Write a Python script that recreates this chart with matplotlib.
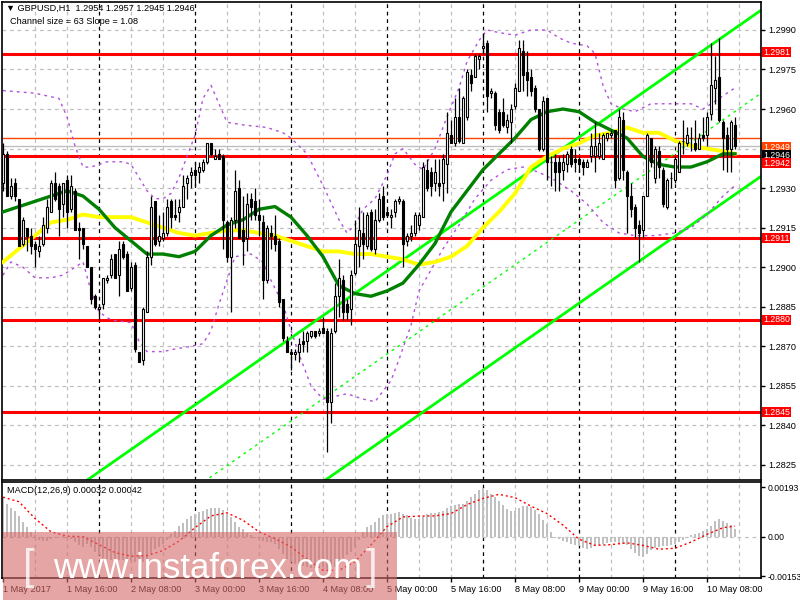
import numpy as np
import matplotlib.pyplot as plt
from matplotlib.patches import Rectangle

# GBPUSD H1, 1 May 2017 00:00 .. 10 May 2017 15:00 (184 bars)
opens = [
    1.2932, 1.2943, 1.2927, 1.2932, 1.2926, 1.2909, 1.2915, 1.2912,
    1.2909, 1.2906, 1.2909, 1.2915, 1.2921, 1.2932, 1.2931, 1.2924,
    1.2933, 1.2922, 1.2929, 1.2915, 1.2915, 1.2908, 1.2900, 1.2889,
    1.2884, 1.2886, 1.2895, 1.2897, 1.2905, 1.2897, 1.2909, 1.2905,
    1.2892, 1.2901, 1.2868, 1.2865, 1.2883, 1.2904, 1.2925, 1.2910,
    1.2911, 1.2913, 1.2925, 1.2920, 1.2921, 1.2923, 1.2932, 1.2935,
    1.2937, 1.2936, 1.2937, 1.2940, 1.2947, 1.2941, 1.2943, 1.2942,
    1.2917, 1.2904, 1.2918, 1.2930, 1.2914, 1.2911, 1.2926, 1.2925,
    1.2920, 1.2917, 1.2895, 1.2913, 1.2912, 1.2910, 1.2888, 1.2872,
    1.2868, 1.2867, 1.2868, 1.2872, 1.2872, 1.2874, 1.2876, 1.2875,
    1.2877, 1.2876, 1.2849, 1.2876, 1.2889, 1.2895, 1.2886, 1.2884,
    1.2898, 1.2908, 1.2913, 1.2908, 1.2921, 1.2907, 1.2918, 1.2927,
    1.2921, 1.2919, 1.2921, 1.2925, 1.2925, 1.2910, 1.2912, 1.2913,
    1.2916, 1.2919, 1.2937, 1.2936, 1.2932, 1.2932, 1.2932, 1.2939,
    1.2950, 1.2947, 1.2957, 1.2947, 1.2957, 1.2973, 1.2972, 1.2979,
    1.2983, 1.2985, 1.2966, 1.2966, 1.2959, 1.2959, 1.2953, 1.2955,
    1.2961, 1.2967, 1.2982, 1.2974, 1.2972, 1.2968, 1.2960, 1.2945,
    1.2964, 1.2940, 1.2940, 1.2940, 1.2937, 1.2939, 1.2945, 1.2941,
    1.2941, 1.2940, 1.2938, 1.2942, 1.2942, 1.2942, 1.2941, 1.2949,
    1.2950, 1.2952, 1.2934, 1.2956, 1.2936, 1.2927, 1.2923, 1.2916,
    1.2914, 1.2927, 1.2949, 1.2934, 1.2944, 1.2937, 1.2923, 1.2934,
    1.2933, 1.2936, 1.2948, 1.2947, 1.2949, 1.2947, 1.2945, 1.2950,
    1.2950, 1.2958, 1.2968, 1.2972, 1.2955, 1.2950, 1.2945, 1.2954,
]
highs = [
    1.2947, 1.2944, 1.2934, 1.2934, 1.2926, 1.2919, 1.2915, 1.2915,
    1.2910, 1.2912, 1.2919, 1.2926, 1.2933, 1.2936, 1.2932, 1.2932,
    1.2935, 1.2935, 1.2930, 1.2917, 1.2915, 1.2908, 1.2900, 1.2890,
    1.2886, 1.2896, 1.2897, 1.2905, 1.2905, 1.2910, 1.2910, 1.2906,
    1.2902, 1.2902, 1.2868, 1.2885, 1.2906, 1.2927, 1.2925, 1.2920,
    1.2921, 1.2926, 1.2926, 1.2926, 1.2926, 1.2935, 1.2935, 1.2938,
    1.2940, 1.2940, 1.2941, 1.2947, 1.2947, 1.2945, 1.2945, 1.2943,
    1.2918, 1.2919, 1.2937, 1.2933, 1.2927, 1.2928, 1.2928, 1.2930,
    1.2926, 1.2920, 1.2916, 1.2916, 1.2920, 1.2911, 1.2888, 1.2874,
    1.2869, 1.2869, 1.2873, 1.2876, 1.2876, 1.2876, 1.2876, 1.2877,
    1.2881, 1.2877, 1.2877, 1.2894, 1.2903, 1.2897, 1.2888, 1.2899,
    1.2918, 1.2923, 1.2921, 1.2921, 1.2922, 1.2922, 1.2928, 1.2931,
    1.2923, 1.2922, 1.2926, 1.2927, 1.2926, 1.2913, 1.2916, 1.2921,
    1.2921, 1.2940, 1.2941, 1.2938, 1.2941, 1.2941, 1.2943, 1.2959,
    1.2956, 1.2964, 1.2968, 1.2965, 1.2975, 1.2975, 1.2981, 1.2981,
    1.2989, 1.2986, 1.2968, 1.2967, 1.2960, 1.2964, 1.2958, 1.2962,
    1.2970, 1.2986, 1.2986, 1.2982, 1.2975, 1.2969, 1.2960, 1.2965,
    1.2964, 1.2942, 1.2943, 1.2942, 1.2943, 1.2944, 1.2946, 1.2945,
    1.2942, 1.2941, 1.2941, 1.2951, 1.2955, 1.2951, 1.2951, 1.2951,
    1.2952, 1.2952, 1.2960, 1.2959, 1.2937, 1.2932, 1.2924, 1.2918,
    1.2927, 1.2951, 1.2949, 1.2946, 1.2946, 1.2938, 1.2934, 1.2936,
    1.2942, 1.2948, 1.2956, 1.2953, 1.2953, 1.2956, 1.2951, 1.2957,
    1.2959, 1.2985, 1.2980, 1.2987, 1.2956, 1.2953, 1.2956, 1.2957,
]
lows = [
    1.2929, 1.2927, 1.2926, 1.2925, 1.2908, 1.2908, 1.2906, 1.2905,
    1.2900, 1.2904, 1.2908, 1.2913, 1.2921, 1.2925, 1.2912, 1.2919,
    1.2915, 1.2921, 1.2914, 1.2903, 1.2907, 1.2900, 1.2886, 1.2884,
    1.2880, 1.2884, 1.2894, 1.2896, 1.2896, 1.2889, 1.2903, 1.2891,
    1.2891, 1.2868, 1.2864, 1.2863, 1.2883, 1.2901, 1.2908, 1.2908,
    1.2910, 1.2912, 1.2915, 1.2918, 1.2917, 1.2923, 1.2926, 1.2930,
    1.2931, 1.2932, 1.2936, 1.2939, 1.2942, 1.2941, 1.2941, 1.2907,
    1.2902, 1.2883, 1.2915, 1.2911, 1.2901, 1.2906, 1.2918, 1.2918,
    1.2912, 1.2888, 1.2894, 1.2907, 1.2906, 1.2885, 1.2872, 1.2868,
    1.2861, 1.2865, 1.2864, 1.2868, 1.2868, 1.2873, 1.2873, 1.2874,
    1.2875, 1.2830, 1.2841, 1.2875, 1.2881, 1.2880, 1.2880, 1.2878,
    1.2897, 1.2900, 1.2903, 1.2907, 1.2906, 1.2905, 1.2917, 1.2918,
    1.2919, 1.2915, 1.2919, 1.2924, 1.2900, 1.2908, 1.2910, 1.2912,
    1.2914, 1.2919, 1.2929, 1.2927, 1.2929, 1.2927, 1.2925, 1.2928,
    1.2947, 1.2946, 1.2947, 1.2947, 1.2956, 1.2967, 1.2972, 1.2975,
    1.2981, 1.2959, 1.2964, 1.2952, 1.2951, 1.2953, 1.2951, 1.2947,
    1.2960, 1.2967, 1.2967, 1.2965, 1.2965, 1.2959, 1.2944, 1.2944,
    1.2933, 1.2931, 1.2929, 1.2929, 1.2933, 1.2936, 1.2938, 1.2936,
    1.2936, 1.2935, 1.2938, 1.2940, 1.2936, 1.2941, 1.2941, 1.2948,
    1.2949, 1.2930, 1.2933, 1.2933, 1.2913, 1.2919, 1.2911, 1.2902,
    1.2911, 1.2927, 1.2938, 1.2932, 1.2934, 1.2923, 1.2922, 1.2930,
    1.2932, 1.2936, 1.2943, 1.2946, 1.2944, 1.2944, 1.2945, 1.2948,
    1.2946, 1.2956, 1.2962, 1.2955, 1.2937, 1.2936, 1.2936, 1.2945,
]
closes = [
    1.2943, 1.2927, 1.2931, 1.2927, 1.2908, 1.2918, 1.2912, 1.2908,
    1.2907, 1.2908, 1.2916, 1.2923, 1.2932, 1.2926, 1.2922, 1.2932,
    1.2921, 1.2931, 1.2914, 1.2914, 1.2909, 1.2900, 1.2888, 1.2885,
    1.2885, 1.2896, 1.2896, 1.2903, 1.2896, 1.2907, 1.2904, 1.2891,
    1.2900, 1.2869, 1.2864, 1.2884, 1.2904, 1.2923, 1.2909, 1.2912,
    1.2913, 1.2923, 1.2919, 1.2919, 1.2923, 1.2931, 1.2934, 1.2936,
    1.2935, 1.2938, 1.2940, 1.2947, 1.2943, 1.2942, 1.2941, 1.2918,
    1.2904, 1.2918, 1.2929, 1.2911, 1.2910, 1.2924, 1.2923, 1.2920,
    1.2918, 1.2895, 1.2915, 1.2912, 1.2909, 1.2887, 1.2873, 1.2868,
    1.2867, 1.2868, 1.2871, 1.2871, 1.2875, 1.2876, 1.2874, 1.2876,
    1.2875, 1.2849, 1.2875, 1.2889, 1.2896, 1.2883, 1.2883, 1.2897,
    1.2909, 1.2914, 1.2909, 1.2920, 1.2907, 1.2918, 1.2926, 1.2919,
    1.2920, 1.2920, 1.2925, 1.2926, 1.2909, 1.2912, 1.2913, 1.2920,
    1.2920, 1.2938, 1.2930, 1.2931, 1.2936, 1.2931, 1.2941, 1.2951,
    1.2947, 1.2957, 1.2948, 1.2964, 1.2974, 1.2970, 1.2980, 1.2980,
    1.2984, 1.2965, 1.2967, 1.2954, 1.2952, 1.2954, 1.2956, 1.2960,
    1.2968, 1.2983, 1.2973, 1.2971, 1.2967, 1.2960, 1.2945, 1.2963,
    1.2940, 1.2940, 1.2936, 1.2936, 1.2940, 1.2943, 1.2939, 1.2940,
    1.2939, 1.2938, 1.2940, 1.2946, 1.2946, 1.2947, 1.2950, 1.2951,
    1.2951, 1.2933, 1.2957, 1.2937, 1.2927, 1.2922, 1.2915, 1.2913,
    1.2927, 1.2950, 1.2940, 1.2945, 1.2938, 1.2924, 1.2933, 1.2934,
    1.2941, 1.2947, 1.2948, 1.2950, 1.2949, 1.2945, 1.2949, 1.2949,
    1.2957, 1.2969, 1.2971, 1.2956, 1.2949, 1.2945, 1.2955, 1.2946,
]

# moving averages, read every 4 bars
ma_x = list(range(0, 184, 4)) + [183]
ma_green = [
    1.2921, 1.2923, 1.2925, 1.2927, 1.2929, 1.2927, 1.2922, 1.2915,
    1.2910, 1.2905, 1.2905, 1.2904, 1.2906, 1.2912, 1.2916, 1.2918,
    1.2922, 1.2923, 1.2919, 1.2912, 1.2904, 1.2893, 1.2890, 1.2889,
    1.2891, 1.2894, 1.2901, 1.2909, 1.2921, 1.2929, 1.2937, 1.2943,
    1.2949, 1.2956, 1.2959, 1.2960, 1.2959, 1.2955, 1.2952, 1.2949,
    1.2942, 1.2939, 1.2938, 1.2938, 1.2940, 1.2943, 1.2943,
]
ma_yellow = [
    1.2902, 1.2907, 1.2912, 1.2917, 1.2918, 1.2920, 1.2919, 1.2919,
    1.2919, 1.2917, 1.2915, 1.2913, 1.2912, 1.2913, 1.2914, 1.2914,
    1.2913, 1.2912, 1.2910, 1.2908, 1.2906, 1.2906, 1.2905, 1.2905,
    1.2904, 1.2903, 1.2901, 1.2902, 1.2904, 1.2908, 1.2915, 1.2921,
    1.2928, 1.2938, 1.2942, 1.2945, 1.2947, 1.2950, 1.2951, 1.2953,
    1.2951, 1.2951, 1.2948, 1.2946, 1.2945, 1.2944, 1.2943,
]

# Bollinger-type bands (purple dotted)
bb_up_x = [0, 8, 14, 16, 18, 20, 22, 26, 30, 32, 34, 36, 38, 40, 42, 44,
           46, 48, 50, 52, 54, 56, 60, 66, 70, 72, 76, 80, 84, 86, 88, 90,
           93, 96, 98, 100, 103, 105, 108, 111, 114, 116, 119, 121, 124, 128,
           132, 136, 139, 142, 146, 148, 150, 152, 155, 158, 162, 167, 172,
           175, 179, 183]
bb_up = [1.2967, 1.2966, 1.2964, 1.2957, 1.2946, 1.2938, 1.2938, 1.2940,
         1.2940, 1.2939, 1.2934, 1.2929, 1.2926, 1.2926, 1.2928, 1.2934,
         1.2942, 1.2950, 1.2964, 1.2969, 1.2962, 1.2955, 1.2954, 1.2953,
         1.2951, 1.2949, 1.2943, 1.2931, 1.2918, 1.2913, 1.2916, 1.2922,
         1.2926, 1.2935, 1.2943, 1.2945, 1.2939, 1.2937, 1.2945, 1.2957,
         1.2968, 1.2978, 1.2986, 1.2990, 1.2989, 1.2988, 1.2990, 1.2990,
         1.2987, 1.2985, 1.2984, 1.2981, 1.2969, 1.2962, 1.2960, 1.2959,
         1.2962, 1.2962, 1.2962, 1.2960, 1.2964, 1.2968]
bb_lo_x = [0, 2, 5, 8, 12, 15, 18, 20, 22, 24, 27, 32, 34, 36, 40, 43,
           47, 50, 52, 54, 56, 58, 62, 65, 67, 70, 72, 74, 77, 80, 86, 90,
           93, 97, 99, 102, 104, 107, 110, 114, 118, 122, 126, 130, 134, 138,
           142, 146, 150, 154, 158, 163, 168, 172, 176, 180, 183]
bb_lo = [1.2897, 1.2902, 1.2900, 1.2896, 1.2896, 1.2897, 1.2900, 1.2902,
         1.2891, 1.2883, 1.2880, 1.2879, 1.2872, 1.2868, 1.2868, 1.2869,
         1.2870, 1.2871, 1.2876, 1.2886, 1.2895, 1.2904, 1.2905, 1.2902,
         1.2895, 1.2886, 1.2876, 1.2867, 1.2855, 1.2850, 1.2852, 1.2850,
         1.2849, 1.2857, 1.2865, 1.2878, 1.2891, 1.2899, 1.2907, 1.2916,
         1.2926, 1.2933, 1.2937, 1.2938, 1.2936, 1.2933, 1.2929, 1.2924,
         1.2917, 1.2913, 1.2912, 1.2912, 1.2913, 1.2915, 1.2920, 1.2927,
         1.2931]

# MACD(12,26,9) histogram and signal
macd_hist = [
    0.00150, 0.00130, 0.00114, 0.00101, 0.00081, 0.00059, 0.00039, 0.00020,
    0.00007, -0.00013, -0.00017, -0.00016, -0.00010, -0.00003, 0.00000, 0.00003,
    -0.00003, -0.00010, -0.00020, -0.00033, -0.00039, -0.00026, -0.00039, -0.00059,
    -0.00072, -0.00081, -0.00085, -0.00088, -0.00088, -0.00091, -0.00088, -0.00091,
    -0.00094, -0.00098, -0.00104, -0.00098, -0.00085, -0.00065, -0.00046, -0.00039,
    -0.00026, -0.00013, 0.00013, 0.00023, 0.00042, 0.00055, 0.00068, 0.00081,
    0.00091, 0.00098, 0.00101, 0.00107, 0.00111, 0.00111, 0.00111, 0.00104,
    0.00091, 0.00078, 0.00059, 0.00039, 0.00029, 0.00016, 0.00007, -0.00003,
    -0.00010, -0.00017, -0.00020, -0.00020, -0.00026, -0.00046, -0.00068, -0.00085,
    -0.00098, -0.00107, -0.00111, -0.00114, -0.00117, -0.00120, -0.00120, -0.00120,
    -0.00117, -0.00124, -0.00130, -0.00117, -0.00098, -0.00081, -0.00072, -0.00059,
    -0.00039, -0.00013, 0.00020, 0.00039, 0.00046, 0.00059, 0.00072, 0.00085,
    0.00088, 0.00091, 0.00094, 0.00098, 0.00091, 0.00085, 0.00072, 0.00068,
    0.00068, 0.00078, 0.00088, 0.00094, 0.00095, 0.00098, 0.00101, 0.00111,
    0.00121, 0.00126, 0.00127, 0.00130, 0.00140, 0.00156, 0.00169, 0.00182,
    0.00192, 0.00182, 0.00169, 0.00156, 0.00140, 0.00124, 0.00107, 0.00100,
    0.00100, 0.00114, 0.00120, 0.00120, 0.00117, 0.00104, 0.00091, 0.00065,
    0.00052, 0.00020, -0.00003, -0.00010, -0.00016, -0.00020, -0.00026, -0.00033,
    -0.00036, -0.00042, -0.00046, -0.00043, -0.00035, -0.00033, -0.00029, -0.00023,
    -0.00020, -0.00020, -0.00022, -0.00026, -0.00033, -0.00046, -0.00062, -0.00075,
    -0.00078, -0.00065, -0.00049, -0.00042, -0.00039, -0.00036, -0.00034, -0.00033,
    -0.00029, -0.00020, -0.00013, -0.00003, 0.00009, 0.00013, 0.00017, 0.00022,
    0.00029, 0.00042, 0.00062, 0.00068, 0.00062, 0.00055, 0.00046, 0.00032,
]
macd_signal = [
    0.00155, 0.00137, 0.00072, 0.00020, 0.00003, 0.00001, -0.00030, -0.00061,
    -0.00075, -0.00073, -0.00053, -0.00016, 0.00036, 0.00082, 0.00094, 0.00065,
    0.00020, -0.00007, -0.00039, -0.00087, -0.00130, -0.00130, -0.00096, -0.00031,
    0.00040, 0.00078, 0.00081, 0.00082, 0.00091, 0.00126, 0.00150, 0.00166,
    0.00153, 0.00120, 0.00091, 0.00046, -0.00009, -0.00033, -0.00030, -0.00023,
    -0.00033, -0.00048, -0.00044, -0.00020, 0.00010, 0.00036, 0.00042,
]

# trend channel (Channel size = 63, Slope = 1.08)
chan_x = [0, 190]
chan_upper = [1.2797, 1.2998]
chan_size = 0.0063

red_levels = [1.2981, 1.2942, 1.2911, 1.2880, 1.2845]
ask_level = 1.2949
bid_level = 1.2946

price_ticks = [1.2825, 1.2840, 1.2855, 1.2870, 1.2885, 1.2900, 1.2915,
               1.2930, 1.2945, 1.2960, 1.2975, 1.2990]
date_ticks = [0, 16, 32, 48, 64, 80, 96, 112, 128, 144, 160, 176]
date_labels = ['1 May 2017', '1 May 16:00', '2 May 08:00', '3 May 00:00',
               '3 May 16:00', '4 May 08:00', '5 May 00:00', '5 May 16:00',
               '8 May 08:00', '9 May 00:00', '9 May 16:00', '10 May 08:00']
day_starts = [24, 48, 72, 96, 120, 144, 168]

plt.rcParams['font.family'] = ['Liberation Sans', 'DejaVu Sans']
fs = 6.6

fig = plt.figure(figsize=(8, 6), dpi=100)
ax = fig.add_axes([2 / 800, 1 - 480 / 600, 759 / 800, 478 / 600])
am = fig.add_axes([2 / 800, 1 - 578 / 600, 759 / 800, 96 / 600])

x = np.arange(len(closes))
o = np.array(opens)
c = np.array(closes)

for a in (ax, am):
    a.set_xlim(-0.25, 189.5)
    for v in range(8, 190, 8):
        col = 'black' if v in day_starts else '#c0c0c0'
        a.axvline(v, color=col, lw=0.9, ls=(0, (3, 3)), zorder=0)
    for s in a.spines.values():
        s.set_linewidth(1.2)

# price panel
ax.set_ylim(1.28193, 1.30006)
for v in price_ticks:
    ax.axhline(v, color='#c0c0c0', lw=0.9, ls=(0, (3, 3)), zorder=0)

ax.axhline(bid_level, color='#c0c0c0', lw=1, zorder=1)
ax.axhline(ask_level, color='#ff4500', lw=1, zorder=1)
for v in red_levels:
    ax.axhline(v, color='#ff0000', lw=2.2, zorder=1)

cx = np.array(chan_x)
up = np.array(chan_upper)
ax.plot(cx, up, color='#00ff00', lw=2, zorder=2)
ax.plot(cx, up - chan_size, color='#00ff00', lw=2, zorder=2)
ax.plot(cx, up - chan_size / 2, color='#00ff00', lw=1, ls=(0, (2, 3)), zorder=2)

ax.plot(bb_up_x, bb_up, color='#b450dc', lw=1, ls=(0, (2, 3)), zorder=2)
ax.plot(bb_lo_x, bb_lo, color='#b450dc', lw=1, ls=(0, (2, 3)), zorder=2)

ax.plot(ma_x, ma_yellow, color='#ffff00', lw=2.8, zorder=3)
ax.plot(ma_x, ma_green, color='#008000', lw=2.4, zorder=3)

ax.vlines(x, lows, highs, color='black', lw=0.9, zorder=4)
body_lo = np.minimum(o, c)
body_h = np.abs(c - o)
fill = ['white' if cc > oo else 'black' for oo, cc in zip(o, c)]
ax.bar(x, body_h, bottom=body_lo, width=0.62, color=fill,
       edgecolor='black', linewidth=0.8, zorder=5)

ax.yaxis.tick_right()
ax.set_yticks(price_ticks)
# 1.2945 sits under the bid/ask boxes and is not visible in MT4
ax.set_yticklabels(['' if v == 1.2945 else '%.4f' % v for v in price_ticks])
ax.tick_params(axis='y', labelsize=fs, length=3, width=1, pad=2)
ax.set_xticks([])

# price labels on the scale (MT4 stacks the three close ones)
lab_levels = [ask_level, bid_level, 1.2942, 1.2981, 1.2911, 1.2880, 1.2845]
lab_colors = ['#ff4500', 'black', '#ff0000', '#ff0000', '#ff0000',
              '#ff0000', '#ff0000']
lab_shift = [-6.8, -6.8, -4.7, 1.2, 0, 0, 0]
for v, col, dy in zip(lab_levels, lab_colors, lab_shift):
    ax.annotate('%.4f' % v, xy=(1, v), xycoords=('axes fraction', 'data'),
                xytext=(1.5, dy), textcoords='offset points',
                ha='left', va='center', fontsize=6.3, color='white',
                bbox=dict(boxstyle='square,pad=0.08', fc=col, ec='none'),
                annotation_clip=False, zorder=10)

fig.text(6 / 800, 1 - 8 / 600, '\u25bc GBPUSD,H1  1.2954 1.2957 1.2945 1.2946',
         fontsize=fs, va='center', ha='left')
fig.text(10 / 800, 1 - 22 / 600, 'Channel size = 63 Slope = 1.08',
         fontsize=fs, va='center', ha='left')

# MACD panel
am.set_ylim(-0.00160, 0.00214)
am.axhline(0, color='#c0c0c0', lw=0.9, ls=(0, (3, 3)), zorder=0)
am.bar(x, macd_hist, width=0.7, color='#c0c0c0', zorder=2)
am.plot(ma_x, macd_signal, color='#ff0000', lw=1, ls=(0, (1.5, 2)), zorder=3)
am.yaxis.tick_right()
am.set_yticks([0.00193, 0.0, -0.00153])
am.set_yticklabels(['0.00193', '0.00', '-0.00153'])
am.tick_params(axis='y', labelsize=6.2, length=3, width=1, pad=1.5)
am.set_xticks(date_ticks)
am.set_xticklabels(date_labels, ha='left')
am.tick_params(axis='x', labelsize=fs, length=3, width=1, pad=2)
am.text(0.006, 0.91, 'MACD(12,26,9) 0.00032 0.00042', transform=am.transAxes,
        fontsize=fs, va='center', ha='left')

# watermark
fig.patches.append(Rectangle((3 / 800, 0), 394 / 800, 68 / 600,
                             transform=fig.transFigure, fc='#d66a6a',
                             alpha=0.6, ec='none', zorder=20))
fig.text(29 / 800, 1 - 568 / 600, '[', fontsize=30, color='white', alpha=0.8,
         ha='center', va='center', zorder=21)
fig.text(208 / 800, 1 - 568 / 600, 'www.instaforex.com', fontsize=25,
         color='white', ha='center', va='center', zorder=21)
fig.text(371 / 800, 1 - 568 / 600, ']', fontsize=30, color='white', alpha=0.8,
         ha='center', va='center', zorder=21)

plt.savefig('out.png', dpi=100)
